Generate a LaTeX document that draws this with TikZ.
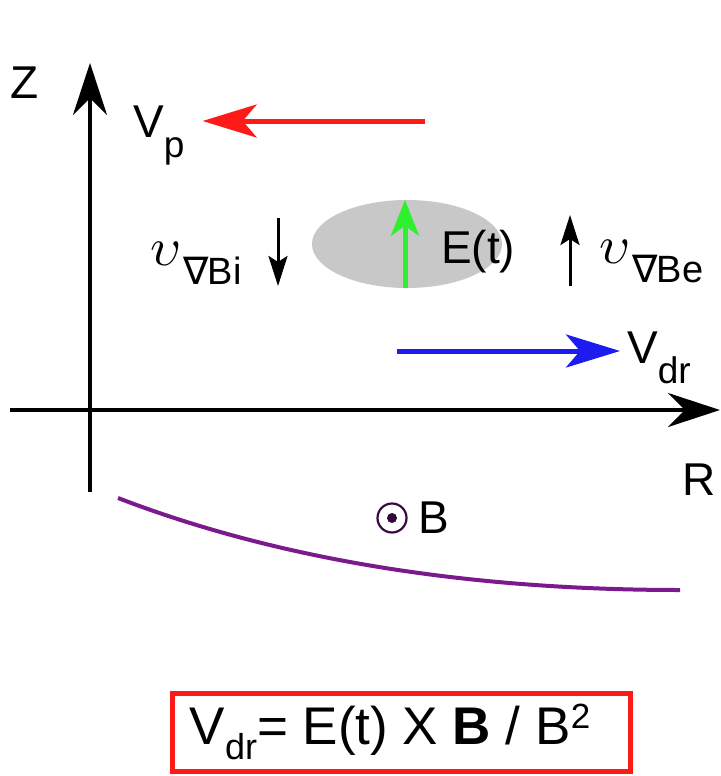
\documentclass[tikz,border=0pt]{standalone}
\usepackage{graphicx}
\usepackage{fontspec}
\setmainfont{Liberation Sans}
\newfontfamily\symfont{DejaVu Sans}
\usepackage{tikz}
\usetikzlibrary{arrows.meta, positioning, shapes.geometric}
\definecolor{Drift_Red}{HTML}{FF1A1A}
\definecolor{Drift_Blue}{HTML}{1C1CF0}
\definecolor{Drift_Green}{HTML}{2EF02E}
\definecolor{Drift_Purple}{HTML}{7A1A8C}
\definecolor{Drift_Gray}{HTML}{C8C8C8}
\newcommand{\bigfont}{\fontsize{46}{50}\selectfont}
\newcommand{\lowsub}[1]{\raisebox{-0.45em}{\fontsize{37}{40}\selectfont #1}}
\newcommand{\gradsub}[1]{\raisebox{-0.43em}{\fontsize{38}{40}\selectfont\kern2pt{\symfont ∇}\kern-1pt#1}}
\newcommand{\upsil}{{\normalsize\scalebox{5.4}{$\upsilon$}}}

\begin{document}
\begin{tikzpicture}[x=1pt, y=-1pt,
    lbl/.style={font=\bigfont, inner sep=0pt},
    axis/.style={line width=4pt, -{Stealth[length=52pt, width=34pt, inset=17pt]}},
    vel/.style={line width=5pt, -{Stealth[length=54pt, width=33pt, inset=14pt]}},
    thinarr/.style={line width=3pt, -{Stealth[length=30pt, width=19pt, inset=6pt]}}]
    \useasboundingbox (0,0) rectangle (720,776);
    % axes
    \coordinate (zbot) at (90,492);
    \coordinate (ztop) at (90,63);
    \coordinate (rleft) at (10,410);
    \coordinate (rright) at (720,410);
    \draw[axis] (zbot) -- (ztop);
    \draw[axis] (rleft) -- (rright);
    \node[lbl, anchor=base west] (zlab) at (10,98) {Z};
    \node[lbl, anchor=base west] (rlab) at (682,495) {R};
    % poloidal velocity
    \node[lbl, anchor=base west] (vp) at (133,137) {V\lowsub{p}};
    \coordinate (vptail) at (425,121);
    \draw[vel, Drift_Red] (vptail) -- ([xshift=18pt]vptail -| vp.east);
    % E field blob
    \node[ellipse, fill=Drift_Gray, minimum width=190pt, minimum height=88pt] (blob) at (407,244) {};
    \draw[Drift_Green, line width=5pt, -{Stealth[length=36pt, width=28pt, inset=10pt]}] ([xshift=-2pt]blob.south) -- ([xshift=-2pt]blob.north);
    \node[lbl, anchor=base west] (etlab) at (441,263) {E(t)};
    % grad-B drifts
    \node[lbl, anchor=base west] (ubi) at (150,265) {\upsil\gradsub{Bi}};
    \coordinate (bitop) at (278,218);
    \coordinate (bibot) at (278,286);
    \draw[thinarr] (bitop) -- (bibot);
    \node[lbl, anchor=base west] (ube) at (599,263) {\upsil\gradsub{Be}};
    \coordinate (betop) at (570,215);
    \coordinate (bebot) at (570,286);
    \draw[thinarr] (bebot) -- (betop);
    % drift velocity
    \node[lbl, anchor=base west] (vdr) at (627,363) {V\lowsub{dr}};
    \coordinate (vdrtail) at (397,351);
    \draw[vel, Drift_Blue] (vdrtail) -- ([xshift=-7pt]vdrtail -| vdr.west);
    % field line and B out of page
    \coordinate (flstart) at (118,498);
    \coordinate (flend) at (680,590);
    \draw[Drift_Purple, line width=4pt] (flstart) .. controls (300,568) and (500,590) .. (flend);
    \node[circle, draw=Drift_Purple!45!black, line width=2.2pt, minimum size=29pt, inner sep=0pt] (bsym) at (392,518) {};
    \fill[Drift_Purple!40!black] (bsym.center) circle (5pt);
    \node[lbl, right=11pt of bsym] (blab) {B};
    % formula
    \node[draw=Drift_Red, line width=5pt, minimum width=458pt, minimum height=78pt, inner sep=0pt] (vdrbox) at (401,732)
        {\fontsize{53}{56}\selectfont V\raisebox{-0.28em}{\fontsize{36}{38}\selectfont dr}= E(t) X \textbf{B} / B\raisebox{0.3em}{\fontsize{35}{38}\selectfont 2}\hspace*{22pt}};
\end{tikzpicture}
\end{document}
